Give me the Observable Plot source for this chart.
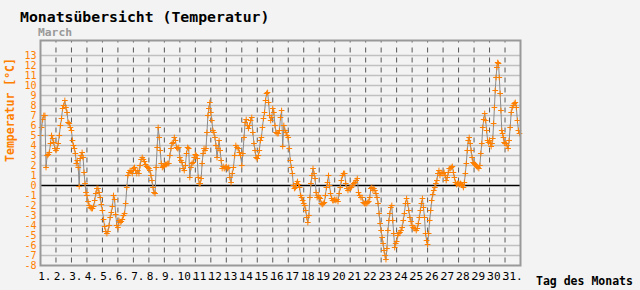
<!DOCTYPE html>
<html>
<head>
<meta charset="utf-8">
<script src="https://cdn.jsdelivr.net/npm/d3@7"></script>
<script src="https://cdn.jsdelivr.net/npm/@observablehq/plot@0.6"></script>
<style>
  html, body { margin: 0; padding: 0; background: #f3f3f3; }
  #chart { width: 640px; height: 290px; }
</style>
</head>
<body>
<div id="chart"></div>
<script>
// Readings per day of March (°C), evenly spaced through each day
const tempsByDay = [
  [5.0, 5.8, 6.6, 7.0, 7.0, 1.8, 3.0, 3.1, 3.3, 4.2, 5.0, 4.7, 4.3, 3.7],
  [3.5, 3.7, 4.2, 5.0, 6.0, 6.7, 7.7, 8.0, 8.5, 7.8, 7.3, 6.3, 6.2, 5.8],
  [5.5, 4.5, 4.0, 3.7, 3.2, 2.2, 2.5, 1.8, -0.1, 2.7, 3.0, 3.3, 2.8, 1.3, 0.2, -0.7],
  [-1.0, -1.6, -2.0, -2.2, -2.3, -2.3, -2.1, -1.5, -0.8, -0.3, -0.3, -0.7, -1.2, -1.9],
  [-2.5, -3.4, -4.1, -4.6, -4.8, -4.6, -4.0, -3.2, -2.7, -2.1, -1.0, -1.4, -2.9, -4.0],
  [-4.2, -3.5, -3.7, -3.6, -3.4, -3.0, -2.8, -1.8, -0.2, 1.0, 1.3, 1.5, 1.4, 1.2],
  [1.7, 1.8, 1.5, 1.2, 1.5, 1.2, 2.0, 2.6, 2.8, 2.6, 2.4, 2.1, 1.9, 1.8],
  [1.7, 1.5, 1.0, 0.5, -0.2, -0.7, -0.8, 1.8, 3.8, 5.8, 4.8, 3.5, 2.2, 1.8, 1.9],
  [2.0, 2.1, 2.1, 2.2, 2.2, 3.0, 3.7, 4.2, 4.3, 4.8, 4.5, 3.8, 3.7, 3.8],
  [2.8, 2.5, 2.3, 1.7, 1.5, 2.0, 3.2, 3.8, 3.7, 0.8, 1.8, 2.2, 2.3, 2.8],
  [3.1, 3.0, 2.7, 0.8, 0.2, 0.2, 0.7, 2.2, 3.2, 3.7, 3.5, 3.7, 5.3, 7.0, 7.7, 8.3],
  [7.3, 6.5, 5.5, 5.3, 4.8, 4.0, 2.8, 3.7, 4.5, 3.5, 2.5, 1.7, 1.9, 1.7, 1.8],
  [1.9, 1.7, 1.8, 0.8, 0.3, 1.2, 1.8, 3.0, 4.0, 3.8, 3.7, 3.3, 3.0],
  [2.0, 3.2, 4.8, 6.3, 6.6, 6.0, 5.7, 6.0, 6.5, 6.8, 5.3, 4.2, 3.5, 2.8],
  [2.7, 3.0, 3.5, 4.5, 4.8, 5.8, 6.7, 7.3, 8.5, 9.2, 9.3, 8.3, 7.0, 6.5, 6.8],
  [7.7, 7.3, 6.0, 5.3, 5.2, 5.2, 5.5, 6.8, 7.5, 3.9, 6.0, 5.5, 5.3, 5.0],
  [4.8, 3.7, 2.5, 1.8, 1.2, 0.0, -0.3, -0.2, 0.2, 0.4, 0.1, -0.2, -1.0, -1.2, -1.5],
  [-1.8, -2.0, -2.5, -3.2, -3.7, -3.0, -1.2, 0.2, 1.0, 1.7, 1.2, 0.7, -0.7, -1.2, -1.0],
  [-1.2, -1.3, -1.8, -1.9, -1.8, -1.7, -1.0, -0.2, 0.3, 1.0, 0.0, -0.8, -1.3, -1.5, -1.5],
  [-1.4, -1.5, -1.4, -1.6, -0.8, -0.2, 0.5, 1.0, 1.2, 1.2, 0.2, -0.3, -0.5, -0.3],
  [-0.2, -0.2, 0.0, 0.2, 0.3, 0.5, 0.7, -0.7, -1.0, -1.2, -1.2, -1.7, -1.8],
  [-1.8, -1.8, -1.7, -1.6, -1.2, -0.3, -0.2, -0.5, -0.3, -0.5, -0.8, -1.2, -1.8, -2.8, -3.8],
  [-4.5, -5.2, -5.8, -6.5, -7.0, -7.4, -6.3, -4.5, -3.5, -2.8, -2.2, -2.0, -3.5, -4.8, -6.2, -5.8],
  [-5.6, -5.0, -4.8, -4.7, -4.5, -4.2, -3.5, -2.8, -1.8, -1.3, -1.8, -2.5, -3.2, -3.6],
  [-4.0, -4.2, -4.3, -4.3, -4.5, -4.3, -3.8, -3.2, -2.5, -1.8, -1.3, -2.2, -3.2, -4.8, -5.5],
  [-5.9, -4.8, -3.5, -2.5, -1.5, -0.9, -0.5, -0.2, 0.2, 0.5, 1.2, 1.5, 1.0, 1.3, 1.2],
  [1.2, 1.3, 1.0, 0.5, 0.8, 1.3, 1.7, 1.7, 1.8, 1.9, 1.3, 0.8, 0.3, 0.1, 0.2],
  [0.2, 0.1, 0.2, 0.1, 0.0, -0.2, 0.3, 1.2, 2.2, 3.5, 4.5, 4.8, 4.2, 3.5, 2.8, 2.3],
  [2.2, 2.1, 2.0, 1.9, 1.8, 1.7, 2.0, 3.2, 4.2, 5.8, 6.6, 7.2, 6.5, 5.5, 4.5, 4.3],
  [4.5, 4.2, 3.9, 4.2, 4.7, 6.2, 7.8, 9.5, 10.8, 11.8, 12.3, 12.2, 10.8, 9.2, 7.5, 5.5, 5.2, 4.8, 4.3],
  [4.2, 4.2, 4.0, 3.7, 4.5, 5.8, 7.3, 7.8, 8.0, 8.2, 8.3, 7.8, 6.5, 5.5, 5.2]
];
const dayLabels = d3.range(1, 32).map(d => d + ".");
const yTicks = d3.range(-8, 14);           // -8 … 13
const yGrid = d3.range(-7, 14).filter(d => d !== 0);
const dayLines = d3.range(1, 31);

const points = tempsByDay.flatMap((vals, di) =>
  vals.map((v, i) => ({t: di + i / vals.length, v})));

const orange = "#ff8000";
const mono = "'DejaVu Sans Mono', monospace";

const chart = Plot.plot({
  width: 640,
  height: 290,
  marginLeft: 40,
  marginRight: 120,
  marginTop: 40,
  marginBottom: 25,
  style: {background: "#f3f3f3", fontFamily: mono, overflow: "visible"},
  x: {domain: [0, 31], axis: null},
  y: {domain: [-8, 14.5], axis: null},
  marks: [
    Plot.ruleY(yGrid, {stroke: "#c0c0c0", strokeWidth: 1.5}),
    Plot.ruleX(dayLines, {y1: -8, y2: 14.5, stroke: "#555", strokeWidth: 1, strokeDasharray: "5,5", strokeDashoffset: 7.5}),
    Plot.ruleY([0], {stroke: "#000", strokeWidth: 1.5}),
    Plot.line(points, {x: "t", y: "v", stroke: "#8c8c8c", strokeWidth: 1}),
    Plot.dot(points, {x: "t", y: "v", symbol: "plus", r: 2, stroke: orange, strokeWidth: 1}),
    Plot.frame({stroke: "#999", strokeWidth: 2}),
    Plot.text(yTicks, {x: 0, y: d => d, text: d => String(d), textAnchor: "end", dx: -4, fill: orange, fontSize: 10, fontFamily: mono}),
    Plot.text(dayLabels, {x: (d, i) => i + 0.5, y: -8, dy: 11, text: d => d, textAnchor: "start", dx: -10, fill: "#000", fontSize: 11, fontFamily: mono})
  ]
});
document.getElementById("chart").appendChild(chart);

const svg = d3.select(chart);
svg.append("text").attr("x", 20).attr("y", 21.5).attr("text-anchor", "start")
  .attr("font-family", mono).attr("font-size", 14.8).attr("font-weight", "bold").attr("fill", "#000")
  .text("Monatsübersicht (Temperatur)");
svg.append("text").attr("x", 38).attr("y", 36).attr("text-anchor", "start")
  .attr("font-family", mono).attr("font-size", 11.3).attr("font-weight", "bold").attr("fill", "#999")
  .text("March");
svg.append("text").attr("transform", "translate(14,110) rotate(-90)")
  .attr("text-anchor", "middle")
  .attr("font-family", mono).attr("font-size", 11.5).attr("font-weight", "bold").attr("fill", orange)
  .text("Temperatur [°C]");
svg.append("text").attr("x", 536).attr("y", 284.5).attr("text-anchor", "start")
  .attr("font-family", mono).attr("font-size", 11.5).attr("font-weight", "bold").attr("fill", "#000")
  .text("Tag des Monats");
</script>
</body>
</html>
